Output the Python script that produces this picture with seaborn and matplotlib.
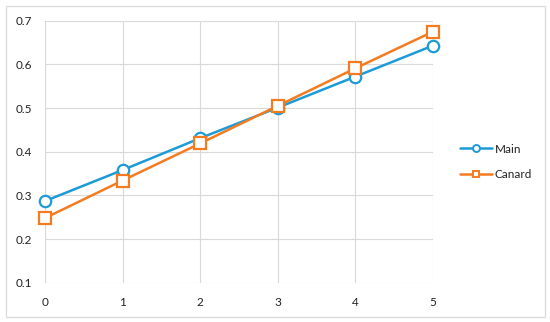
import matplotlib
matplotlib.use("Agg")
import matplotlib.pyplot as plt
import seaborn as sns
import pandas as pd
from matplotlib.lines import Line2D
from matplotlib.patches import Rectangle

x_values = [0, 1, 2, 3, 4, 5]
main_values = [0.287, 0.358, 0.431, 0.501, 0.572, 0.643]
canard_values = [0.248, 0.334, 0.419, 0.505, 0.591, 0.675]
series_names = ["Main", "Canard"]
y_ticks = [0.1, 0.2, 0.3, 0.4, 0.5, 0.6, 0.7]
colors = {"Main": "#1C9BD7", "Canard": "#F47B20"}
markers = {"Main": "o", "Canard": "s"}

sns.set_theme(style="white")
plt.rcParams["font.family"] = ["Lato", "DejaVu Sans"]

df = pd.DataFrame({
    "x": x_values * 2,
    "y": main_values + canard_values,
    "series": ["Main"] * len(x_values) + ["Canard"] * len(x_values),
})

fig = plt.figure(figsize=(5.5, 3.22), dpi=100)
ax = fig.add_axes([45 / 550, 1 - 282.7 / 322, (433 - 45) / 550, (282.7 - 20.7) / 322])

for name in series_names:
    sub = df[df["series"] == name]
    sns.lineplot(data=sub, x="x", y="y", ax=ax, color=colors[name],
                 marker=markers[name], markersize=8.2, markerfacecolor="white",
                 markeredgecolor=colors[name], markeredgewidth=1.6,
                 linewidth=1.8, clip_on=False, legend=False, zorder=3)

ax.set_xlim(0, 5)
ax.set_ylim(0.1, 0.7)
ax.set_xticks(x_values)
ax.set_yticks(y_ticks)
ax.set_xticklabels([str(v) for v in x_values])
ax.set_yticklabels([f"{v:.1f}" for v in y_ticks])
ax.set_xlabel("")
ax.set_ylabel("")
ax.grid(True, color="#D9D9D9", linewidth=0.8)
ax.set_axisbelow(True)
for s in ax.spines.values():
    s.set_visible(False)
ax.tick_params(axis="both", length=0, labelsize=8.5, labelcolor="#222222")
ax.tick_params(axis="y", pad=9)
ax.tick_params(axis="x", pad=10)

handles = [Line2D([0], [0], color=colors[n], marker=markers[n], markersize=5,
                  markerfacecolor="white", markeredgecolor=colors[n],
                  markeredgewidth=1.4, linewidth=1.8) for n in series_names]
fig.legend(handles, series_names, loc="center left",
           bbox_to_anchor=(449 / 550, 1 - 162 / 322), frameon=False,
           fontsize=8.5, labelspacing=1.25, handlelength=2.7, handletextpad=0.25,
           labelcolor="#222222")

fig.patches.append(Rectangle((5.5 / 550, 5.5 / 322), (545 - 5.5) / 550, (316.5 - 5.5) / 322,
                             transform=fig.transFigure, fill=False,
                             edgecolor="#D9D9D9", linewidth=0.9))

fig.savefig("out.png", dpi=100)
